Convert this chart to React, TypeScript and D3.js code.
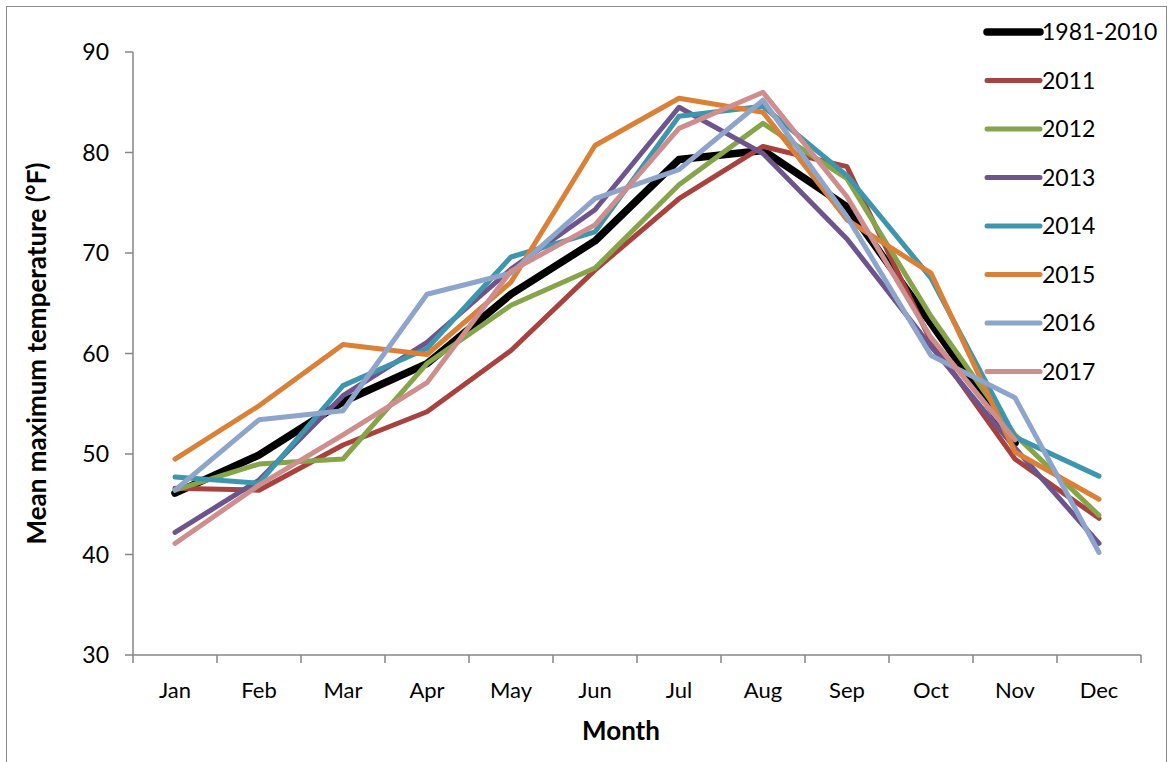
import React from "react";
import * as d3 from "d3";

const months = ["Jan", "Feb", "Mar", "Apr", "May", "Jun", "Jul", "Aug", "Sep", "Oct", "Nov", "Dec"];
const seriesNames = ["1981-2010", "2011", "2012", "2013", "2014", "2015", "2016", "2017"];
const seriesColors = ["#000000", "#A8423F", "#86A44A", "#6E548D", "#3D96AE", "#DA8137", "#8EA5CB", "#CE8E8D"];

const normal19812010 = [46.1, 49.9, 55.2, 59.0, 65.9, 71.2, 79.3, 80.2, 74.6, 63.0, 51.1, null];
const y2011 = [46.6, 46.4, 50.9, 54.2, 60.3, 68.3, 75.4, 80.6, 78.6, 61.2, 49.5, 43.6];
const y2012 = [46.4, 49.0, 49.5, 59.0, 64.8, 68.5, 76.8, 82.9, 77.4, 63.7, 51.9, 43.9];
const y2013 = [42.2, 47.4, 55.8, 61.1, 68.4, 74.3, 84.5, 79.9, 71.4, 60.7, 50.6, 41.1];
const y2014 = [47.7, 47.1, 56.8, 60.5, 69.6, 72.1, 83.6, 84.6, 77.7, 67.5, 51.7, 47.8];
const y2015 = [49.5, 54.8, 60.9, 59.9, 67.1, 80.7, 85.4, 84.0, 73.3, 68.0, 50.2, 45.5];
const y2016 = [46.4, 53.4, 54.3, 65.9, 68.0, 75.4, 78.3, 85.2, 73.6, 59.8, 55.6, 40.2];
const y2017 = [41.1, 46.9, 51.9, 57.1, 68.2, 72.8, 82.4, 86.0, 75.6, 61.6, 51.4, null];

const seriesValues = [normal19812010, y2011, y2012, y2013, y2014, y2015, y2016, y2017];
const yTicks = [30, 40, 50, 60, 70, 80, 90];

const FONT = "Lato, 'Open Sans', sans-serif";

export default function App() {
  const left = 133, right = 1141, top = 52, bottom = 655;
  const x = d3.scaleBand<string>().domain(months).range([left, right]);
  const y = d3.scaleLinear().domain([30, 90]).range([bottom, top]);
  const line = d3
    .line<number | null>()
    .defined((d) => d !== null)
    .x((_, i) => (x(months[i]) as number) + x.bandwidth() / 2)
    .y((d) => y(d as number));

  const axisColor = "#868686";
  const legendX = 987, legendY0 = 32, legendStep = 48.5;

  return (
    <svg
      width={1168}
      height={762}
      style={{ position: "absolute", left: 0, top: 0, background: "#fff" }}
    >
      <rect x={6.5} y={6.5} width={1160} height={780} fill="#fff" stroke="#8a8a8a" strokeWidth={1} />
      {/* y axis */}
      <line x1={left} x2={left} y1={top} y2={bottom} stroke={axisColor} strokeWidth={1.5} />
      {yTicks.map((t) => (
        <g key={t}>
          <line x1={left - 8} x2={left} y1={y(t)} y2={y(t)} stroke={axisColor} strokeWidth={1.5} />
          <text x={109} y={y(t)} dy="0.36em" textAnchor="end" fontSize={23} fontFamily={FONT} fill="#000">
            {t}
          </text>
        </g>
      ))}
      {/* x axis */}
      <line x1={left} x2={right} y1={bottom} y2={bottom} stroke={axisColor} strokeWidth={1.5} />
      {d3.range(months.length + 1).map((i) => {
        const xx = left + i * x.step();
        return <line key={i} x1={xx} x2={xx} y1={bottom} y2={bottom + 8} stroke={axisColor} strokeWidth={1.5} />;
      })}
      {months.map((m) => (
        <text
          key={m}
          x={(x(m) as number) + x.bandwidth() / 2}
          y={690}
          dy="0.35em"
          textAnchor="middle"
          fontSize={22}
          fontFamily={FONT}
          fill="#000"
        >
          {m}
        </text>
      ))}
      <text x={621} y={731} dy="0.35em" textAnchor="middle" fontSize={26} fontWeight="bold" fontFamily={FONT}>
        Month
      </text>
      <text
        transform={`translate(37, ${(top + bottom) / 2}) rotate(-90)`}
        dy="0.35em"
        textAnchor="middle"
        fontSize={26}
        fontWeight="bold"
        fontFamily={FONT}
      >
        Mean maximum temperature (°F)
      </text>
      {/* series lines */}
      {seriesValues.map((vals, i) => (
        <path
          key={seriesNames[i]}
          d={line(vals) || ""}
          fill="none"
          stroke={seriesColors[i]}
          strokeWidth={i === 0 ? 7.5 : 5}
          strokeLinejoin="round"
          strokeLinecap="round"
        />
      ))}
      {/* legend */}
      {seriesNames.map((n, i) => {
        const ly = legendY0 + i * legendStep;
        return (
          <g key={n}>
            <line
              x1={legendX}
              x2={legendX + 53}
              y1={ly}
              y2={ly}
              stroke={seriesColors[i]}
              strokeWidth={i === 0 ? 7.5 : 5}
              strokeLinecap="round"
            />
            <text x={legendX + 55} y={ly} dy="0.36em" fontSize={23} fontFamily={FONT} fill="#000">
              {n}
            </text>
          </g>
        );
      })}
    </svg>
  );
}
